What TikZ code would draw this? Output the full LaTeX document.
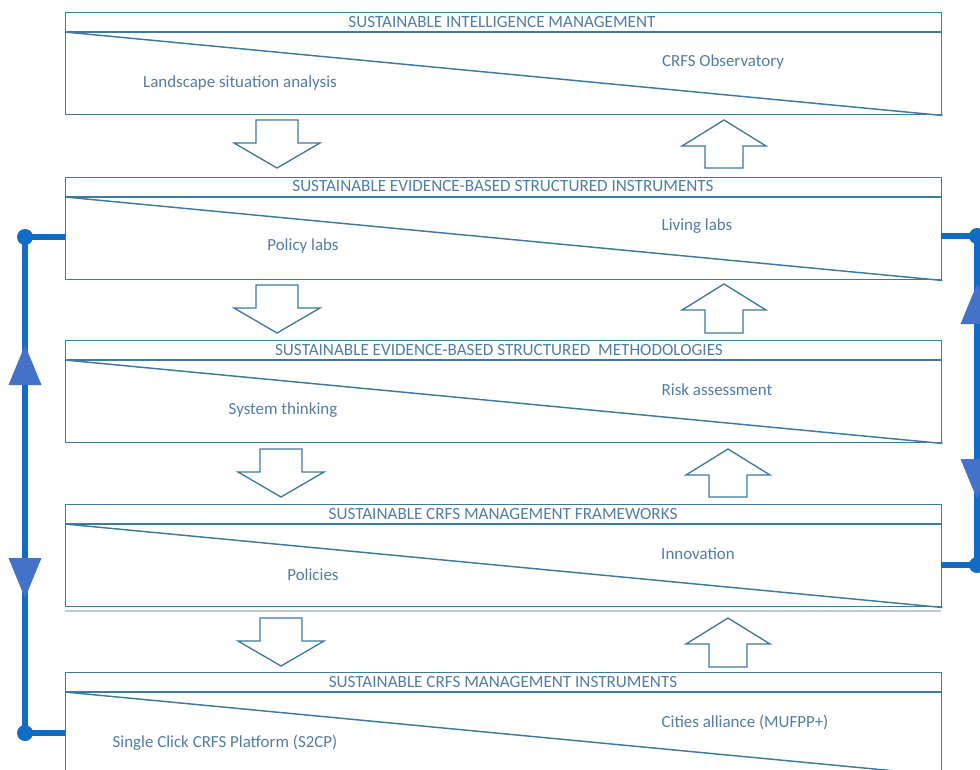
\documentclass[tikz,border=0pt]{standalone}
\usepackage{fontspec}
\setmainfont{Carlito}
\definecolor{boxline}{RGB}{62,122,158}
\definecolor{labeltext}{RGB}{82,124,162}
\definecolor{loopline}{RGB}{16,108,196}
\definecolor{looptip}{RGB}{68,114,200}
\definecolor{sepgray}{RGB}{190,200,206}
\newcommand\blockdown[3]{% centre x, top y, tip y
  \draw[blockarrow] (#1-21,#2) -- (#1+21,#2) -- (#1+21,#3-25) -- (#1+43,#3-25)
    -- (#1,#3) -- (#1-43,#3-25) -- (#1-21,#3-25) -- cycle;}
\newcommand\blockup[3]{% centre x, tip y, bottom y
  \draw[blockarrow] (#1,#2) -- (#1+42,#2+26) -- (#1+19,#2+26) -- (#1+19,#3)
    -- (#1-19,#3) -- (#1-19,#2+26) -- (#1-42,#2+26) -- cycle;}
\begin{document}
\begin{tikzpicture}[x=0.75pt,y=-0.75pt,
  layer/.style={draw=boxline,line width=1.1pt,inner sep=0pt,anchor=north west,
    minimum width=657pt,minimum height=76.5pt},
  band/.style={draw=boxline,line width=1.1pt},
  slope/.style={draw=boxline,line width=1.1pt},
  heading/.style={text=labeltext,font=\fontsize{12.85}{15}\selectfont,inner sep=0pt},
  item/.style={text=labeltext,font=\fontsize{12.7}{15}\selectfont,inner sep=0pt},
  blockarrow/.style={draw=boxline,line width=1pt,fill=white,line join=miter},
  loop/.style={draw=loopline,line width=4.2pt},
  joint/.style={circle,fill=loopline,inner sep=0pt,minimum size=12pt},
  flowtip/.style={fill=looptip}]
\useasboundingbox (0,0) rectangle (980,769);
\clip (0,0) rectangle (980,769);

% five stacked layers, each with a title band and a diagonal split
\foreach \n/\t in {1/12,2/177,3/340,4/504,5/672}{
  \node[layer] (b\n) at (65,\t) {};
  \coordinate (b\n tl) at (65,\t+20);
  \coordinate (b\n tr) at (941,\t+20);
  \draw[band] (b\n tl) -- (b\n tr);
  \draw[slope] (b\n tl) -- (b\n.south east);
}
\draw[sepgray,line width=1.2pt] (65,611) -- (941,611);

% titles
\node[heading] (h1) at (502,22) {SUSTAINABLE INTELLIGENCE MANAGEMENT};
\node[heading] (h2) at (503,186) {SUSTAINABLE EVIDENCE-BASED STRUCTURED INSTRUMENTS};
\node[heading] (h3) at (499,350) {SUSTAINABLE EVIDENCE-BASED STRUCTURED\ \ METHODOLOGIES};
\node[heading] (h4) at (503,514) {SUSTAINABLE CRFS MANAGEMENT FRAMEWORKS};
\node[heading] (h5) at (503,682) {SUSTAINABLE CRFS MANAGEMENT INSTRUMENTS};

% lower-left and upper-right entries
\node[item] (l1) at (240,83) {Landscape situation analysis};
\node[item] (r1) at (723,62) {CRFS Observatory};
\node[item] (l2) at (303,246) {Policy labs};
\node[item] (r2) at (697,226) {Living labs};
\node[item] (l3) at (283,410) {System thinking};
\node[item] (r3) at (717,390) {Risk assessment};
\node[item] (l4) at (313,575) {Policies};
\node[item] (r4) at (698,554) {Innovation};
\node[item] (l5) at (225,743) {Single Click CRFS Platform (S2CP)};
\node[item] (r5) at (745,722) {Cities alliance (MUFPP+)};

% flow between layers
\blockdown{277}{120}{168}
\blockup{724}{120}{168}
\blockdown{277}{285}{333}
\blockup{724}{284}{333}
\blockdown{281}{449}{497}
\blockup{728}{449}{497}
\blockdown{281}{618}{666}
\blockup{728}{618}{667}

% left feedback loop
\node[joint] (jl1) at (25,237) {};
\node[joint] (jl2) at (25,733) {};
\coordinate (el1) at (65,237);
\coordinate (el2) at (65,733);
\draw[loop] (el1) -- (jl1.center) -- (jl2.center) -- (el2);
\fill[flowtip] (25,345) -- (41.5,385) -- (8.5,385) -- cycle;
\fill[flowtip] (25,598) -- (41.5,558) -- (8.5,558) -- cycle;

% right feedback loop
\node[joint] (jr1) at (977,236) {};
\node[joint] (jr2) at (977,565) {};
\coordinate (er1) at (941,236);
\coordinate (er2) at (941,565);
\draw[loop] (er1) -- (jr1.center) -- (jr2.center) -- (er2);
\fill[flowtip] (977,284) -- (993.5,324) -- (960.5,324) -- cycle;
\fill[flowtip] (977,499) -- (993.5,459) -- (960.5,459) -- cycle;
\end{tikzpicture}
\end{document}
